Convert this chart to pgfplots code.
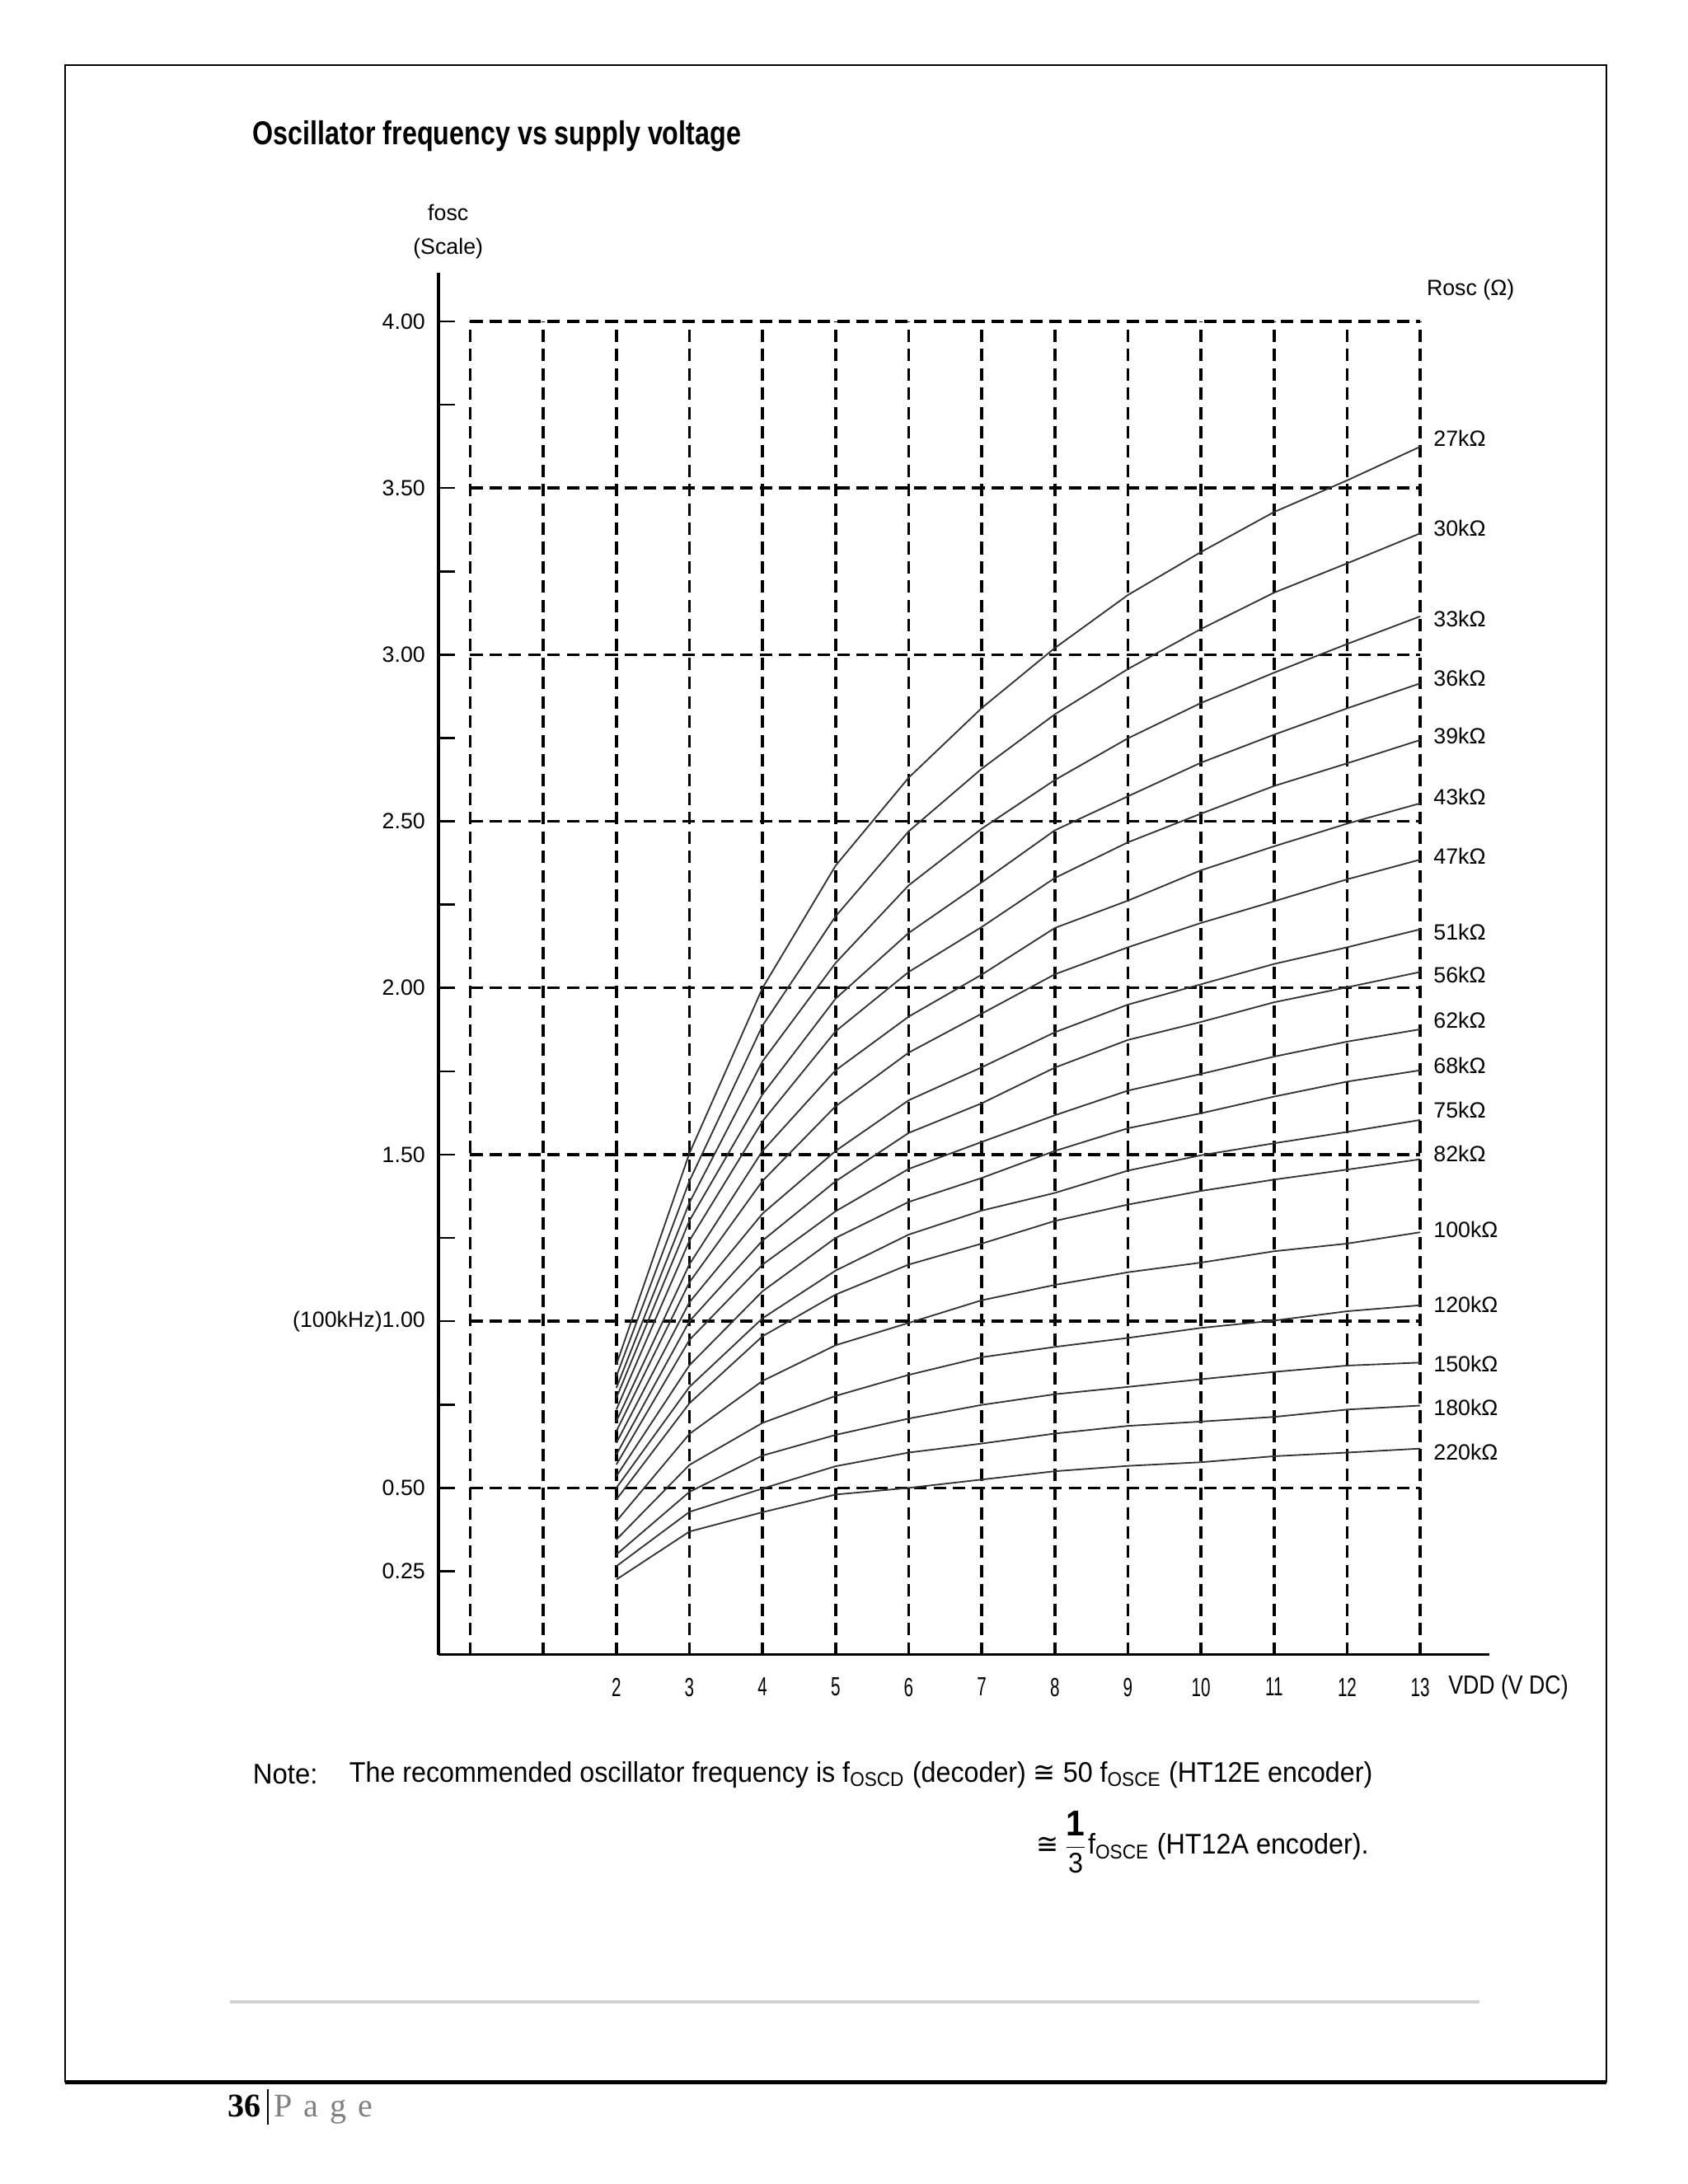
\documentclass[border=0pt]{standalone}
\usepackage{fontspec}
\setmainfont{Liberation Sans}
\newfontfamily\serifpage{Liberation Serif}
\newfontfamily\narrow{Liberation Sans}[FakeStretch=0.65]
\newfontfamily\semnarrow{Liberation Sans}[FakeStretch=0.84]
\newfontfamily\dejavu{DejaVu Sans}
\usepackage{graphicx}
\usepackage{pgfplots}
\usepackage{pgfplotstable}
\pgfplotsset{compat=1.18}

\pgfplotstableread{
V  r27   r30   r33   r36   r39   r43   r47   r51   r56   r62   r68   r75   r82   r100  r120  r150  r180  r220
2  0.870 0.835 0.800 0.770 0.735 0.700 0.670 0.635 0.600 0.570 0.535 0.500 0.465 0.400 0.345 0.300 0.265 0.225
3  1.504 1.421 1.356 1.302 1.242 1.171 1.117 1.057 1.000 0.944 0.868 0.803 0.754 0.662 0.569 0.488 0.428 0.369
4  2.000 1.887 1.780 1.681 1.600 1.511 1.421 1.323 1.242 1.170 1.090 1.009 0.955 0.821 0.695 0.597 0.498 0.427
5  2.367 2.215 2.075 1.968 1.870 1.753 1.645 1.511 1.420 1.330 1.250 1.152 1.080 0.928 0.776 0.659 0.565 0.480
6  2.631 2.470 2.308 2.165 2.048 1.914 1.806 1.663 1.565 1.457 1.358 1.260 1.170 0.995 0.839 0.708 0.606 0.500
7  2.840 2.658 2.478 2.317 2.183 2.040 1.923 1.762 1.654 1.538 1.430 1.332 1.233 1.063 0.892 0.749 0.633 0.525
8  3.020 2.821 2.624 2.473 2.330 2.180 2.041 1.867 1.761 1.618 1.511 1.385 1.301 1.109 0.923 0.781 0.663 0.550
9  3.179 2.957 2.749 2.575 2.437 2.262 2.122 1.950 1.844 1.692 1.579 1.452 1.350 1.147 0.950 0.803 0.686 0.566
10 3.308 3.077 2.855 2.676 2.523 2.353 2.195 2.011 1.898 1.742 1.624 1.498 1.391 1.176 0.980 0.826 0.699 0.577
11 3.428 3.186 2.946 2.760 2.606 2.425 2.260 2.072 1.957 1.794 1.674 1.534 1.425 1.210 1.002 0.848 0.713 0.595
12 3.523 3.274 3.032 2.839 2.674 2.493 2.326 2.122 2.002 1.839 1.719 1.568 1.455 1.233 1.030 0.867 0.735 0.606
13 3.624 3.364 3.115 2.914 2.744 2.554 2.385 2.176 2.048 1.876 1.753 1.604 1.486 1.267 1.048 0.876 0.747 0.618
}\oscdata

\begin{document}
\begin{tikzpicture}
\useasboundingbox (0,0) rectangle (612pt,792pt);
\fill[white] (0,0) rectangle (612pt,792pt);
% page frame
\draw[line width=0.6pt] (23.5pt,37pt) rectangle (582.5pt,768.5pt);
\draw[line width=1.4pt] (23.5pt,37pt) -- (582.5pt,37pt);
\draw[black!18, line width=1.2pt] (83.5pt,66pt) -- (536.5pt,66pt);
% title
\node[anchor=west, inner sep=0] at (91.5pt,742.5pt)
  {\resizebox{177pt}{\height}{\fontsize{12}{14}\selectfont\bfseries Oscillator frequency vs supply voltage}};
% axis titles
\node[align=center, font=\fontsize{8}{12.5}\selectfont] at (162.5pt,708pt) {fosc\\(Scale)};
\node[anchor=west, font=\fontsize{8}{10}\selectfont] at (513.8pt,687pt) {Rosc (Ω)};
\node[anchor=west, inner sep=0, font=\semnarrow\fontsize{9.5}{11}\selectfont] at (525pt,180pt) {VDD (V DC)};

\begin{axis}[
  scale only axis, width=380.9pt, height=501.1pt,
  at={(159pt,192pt)}, anchor=south west,
  xmin=-0.434, xmax=13.94, ymin=0, ymax=4.146,
  axis x line=bottom, axis y line=left,
  axis line style={-, line width=1pt, black},
  every outer x axis line/.append style={-},
  every outer y axis line/.append style={-},
  every inner x axis line/.append style={-},
  every inner y axis line/.append style={-},
  xtick={2,3,4,5,6,7,8,9,10,11,12,13},
  xticklabels={2,3,4,5,6,7,8,9,10,11,12,13},
  x tick style={draw=none},
  ytick={0.25,0.5,0.75,1,1.25,1.5,1.75,2,2.25,2.5,2.75,3,3.25,3.5,3.75,4},
  yticklabels={0.25,0.50,{},(100kHz)1.00,{},1.50,{},2.00,{},2.50,{},3.00,{},3.50,{},4.00},
  y tick style={line width=0.8pt, black},
  tick align=inside, major tick length=6pt,
  y tick label style={font=\fontsize{8}{9.6}\selectfont, xshift=-1.3pt},
  x tick label style={font=\narrow\fontsize{9.5}{11}\selectfont, yshift=-5pt},
  clip=false,
]
% dashed grid
\pgfplotsinvokeforeach{0,1,2,3,4,5,6,7,8,9,10,11,12,13}{
  \addplot[black, line width=1pt, dash pattern=on 4.5pt off 2.5pt] coordinates {(#1,0) (#1,4)};
}
\pgfplotsinvokeforeach{0.5,1,1.5,2,2.5,3,3.5,4}{
  \addplot[black, line width=1pt, dash pattern=on 4.5pt off 2.5pt] coordinates {(0,#1) (13,#1)};
}
% curves
\pgfplotsinvokeforeach{r27,r30,r33,r36,r39,r43,r47,r51,r56,r62,r68,r75,r82,r100,r120,r150,r180,r220}{
  \addplot[black!80, line width=0.55pt] table[x=V, y=#1] {\oscdata};
}
% curve labels
\begin{scope}[every node/.style={anchor=west, font=\fontsize{8}{9.6}\selectfont}]
\node at (axis cs:13.05,3.649) {27kΩ};
\node at (axis cs:13.05,3.380) {30kΩ};
\node at (axis cs:13.05,3.107) {33kΩ};
\node at (axis cs:13.05,2.929) {36kΩ};
\node at (axis cs:13.05,2.755) {39kΩ};
\node at (axis cs:13.05,2.573) {43kΩ};
\node at (axis cs:13.05,2.396) {47kΩ};
\node at (axis cs:13.05,2.168) {51kΩ};
\node at (axis cs:13.05,2.040) {56kΩ};
\node at (axis cs:13.05,1.903) {62kΩ};
\node at (axis cs:13.05,1.767) {68kΩ};
\node at (axis cs:13.05,1.634) {75kΩ};
\node at (axis cs:13.05,1.502) {82kΩ};
\node at (axis cs:13.05,1.274) {100kΩ};
\node at (axis cs:13.05,1.051) {120kΩ};
\node at (axis cs:13.05,0.873) {150kΩ};
\node at (axis cs:13.05,0.741) {180kΩ};
\node at (axis cs:13.05,0.608) {220kΩ};
\end{scope}
\end{axis}

% note
\node[anchor=west, inner sep=0] at (91.5pt,148.5pt)
  {\resizebox{23.5pt}{\height}{\fontsize{10.3}{12}\selectfont Note:}};
\node[anchor=west, inner sep=0] at (126.5pt,148.5pt)
  {\resizebox{371pt}{\height}{\fontsize{10.3}{12}\selectfont The recommended oscillator frequency is f\textsubscript{OSCD} (decoder) {\dejavu ≅} 50 f\textsubscript{OSCE} (HT12E encoder)}};
\node[anchor=east, inner sep=0] at (496.5pt,124pt)
  {\resizebox{120.5pt}{\height}{\fontsize{10.3}{12}\selectfont {\dejavu ≅}\,$\displaystyle\frac{\mbox{\bfseries\fontsize{13}{14}\selectfont 1}}{\mbox{3}}$f\textsubscript{OSCE} (HT12A encoder).}};
% footer
\node[anchor=west, inner sep=0] at (82.5pt,28pt)
  {\serifpage\fontsize{12}{14}\selectfont\bfseries 36\,\rule[-3pt]{0.6pt}{13pt}\,\mdseries\color{gray}\addfontfeature{LetterSpace=35}Page};
\end{tikzpicture}
\end{document}
